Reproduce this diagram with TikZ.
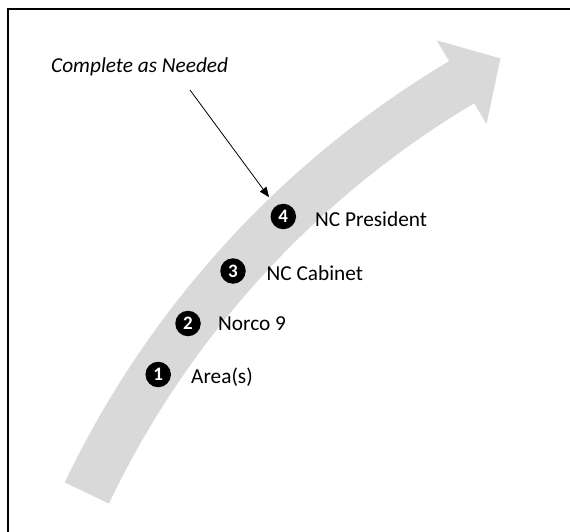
\documentclass[tikz,border=0pt]{standalone}
\usepackage{fontspec}
\setmainfont{Carlito}
\usetikzlibrary{calc,arrows.meta}
\definecolor{bandgray}{RGB}{217,217,217}
\begin{document}
\begin{tikzpicture}[x=1pt,y=1pt,
  band/.style={fill=bandgray},
  stepdot/.style={circle,fill=black,text=white,minimum size=25.5pt,inner sep=0pt,
    font=\fontsize{19}{19}\selectfont\bfseries},
  steplabel/.style={anchor=base west,inner sep=0pt,font=\fontsize{21.3}{24}\selectfont},
  notetext/.style={anchor=base west,inner sep=0pt,font=\fontsize{21.3}{24}\selectfont\itshape},
  pointer/.style={-{Triangle[length=10pt,width=8pt]},line width=0.8pt,shorten >=11pt},
  frame/.style={line width=2pt}]
\useasboundingbox (0,0) rectangle (570,531);

% outer frame (runs off the right and bottom edges)
\begin{scope}
  \clip (0,0) rectangle (570,531);
  \draw[frame] (8,-20) rectangle (600,521.5);
\end{scope}

% curved progress arrow: arc shaft plus triangular head
\coordinate (C) at (952.4,-375.4);
\coordinate (P1) at ($(C)+(120.77:959.3)$);
\coordinate (tip) at ($(P1)+(31.5:45.5)$);
\coordinate (barbA) at ($(P1)+(120.77:48.7)$);
\coordinate (barbB) at ($(P1)+(-59.23:48.7)$);
\fill[band] ($(C)+(154.47:983.8)$) arc[start angle=154.47,end angle=120.77,radius=983.8]
  -- (barbA) -- (tip) -- (barbB)
  -- ($(C)+(120.77:934.8)$) arc[start angle=120.77,end angle=154.47,radius=934.8]
  -- cycle;

% steps
\node[stepdot] (n1) at (158.2,156.5) {1};
\node[stepdot] (n2) at (188,207.5) {2};
\node[stepdot] (n3) at (233,260) {3};
\node[stepdot] (n4) at (283.3,314.5) {4};

\node[steplabel] (l1) at (191,148) {Area(s)};
\node[steplabel] (l2) at (218,201) {Norco 9};
\node[steplabel] (l3) at (266.5,251) {NC Cabinet};
\node[steplabel] (l4) at (315,304.3) {NC President};

% note and pointer
\node[notetext] (note) at (51,458) {Complete as Needed};
\coordinate (ptrstart) at (190,441);
\draw[pointer] (ptrstart) -- (n4);
\end{tikzpicture}
\end{document}
